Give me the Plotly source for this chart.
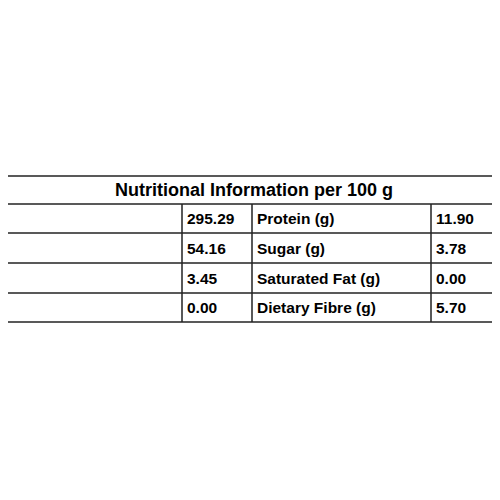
import plotly.graph_objects as go

title = "Nutritional Information per 100 g"
left_labels = ["Energy Value (kcal)", "Carbohydrates (g)", "Fat (g)", "Trans - Fat (mg)"]
left_values = ["295.29", "54.16", "3.45", "0.00"]
right_labels = ["Protein (g)", "Sugar (g)", "Saturated Fat (g)", "Dietary Fibre (g)"]
right_values = ["11.90", "3.78", "0.00", "5.70"]

col_x = [3, 182, 252, 431, 499]
row_y = [176, 204, 233, 263, 293, 322]
OFF = 8  # page body margin

fig = go.Figure()
fig.add_trace(go.Scatter(x=[OFF, 500], y=[OFF, 500], mode="markers", marker=dict(opacity=0), hoverinfo="skip"))
line = dict(color="#222", width=1.5)
for y in row_y:
    fig.add_shape(type="line", x0=col_x[0], x1=col_x[-1], y0=y, y1=y, line=line)
fig.add_shape(type="line", x0=col_x[0], x1=col_x[0], y0=row_y[0], y1=row_y[-1], line=line)
fig.add_shape(type="line", x0=col_x[-1], x1=col_x[-1], y0=row_y[0], y1=row_y[-1], line=line)
for x in col_x[1:-1]:
    fig.add_shape(type="line", x0=x, x1=x, y0=row_y[1], y1=row_y[-1], line=line)

font = dict(family="Liberation Sans", size=15.5, color="black")
fig.add_annotation(x=254, y=(row_y[0] + row_y[1]) / 2, text="<b>" + title + "</b>", showarrow=False,
                   font=dict(family="Liberation Sans", size=18, color="black"))
cols = [left_labels, left_values, right_labels, right_values]
for ci, vals in enumerate(cols):
    for ri, v in enumerate(vals):
        fig.add_annotation(x=col_x[ci] + 3, y=(row_y[ri + 1] + row_y[ri + 2]) / 2, text="<b>" + v + "</b>",
                           showarrow=False, xanchor="left", font=font)

fig.update_layout(width=500, height=500, margin=dict(l=0, r=0, t=0, b=0), showlegend=False,
                  plot_bgcolor="white", paper_bgcolor="white",
                  xaxis=dict(range=[OFF, 500 + OFF], visible=False, fixedrange=True),
                  yaxis=dict(range=[500 + OFF, OFF], visible=False, fixedrange=True))
fig.write_html("out.html")
